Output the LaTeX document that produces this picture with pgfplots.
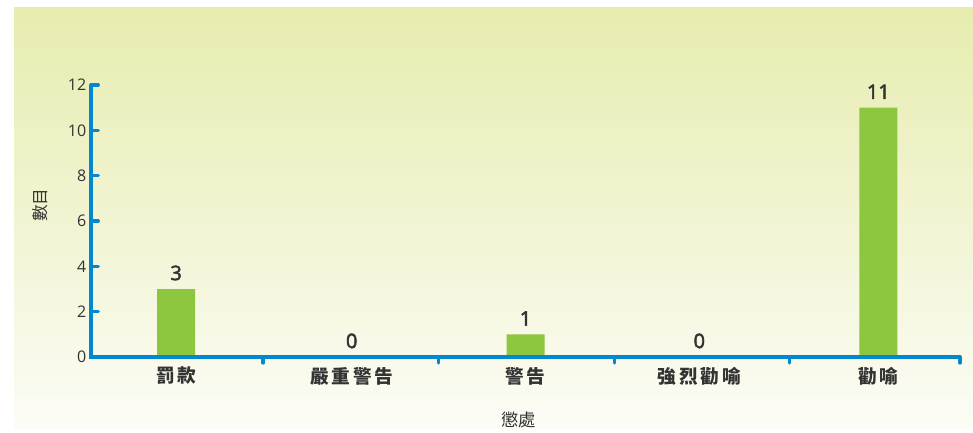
\documentclass[border=0pt]{standalone}
\usepackage{pgfplots}
\pgfplotsset{compat=1.18}
\usepackage{fontspec}
\setmainfont{Open Sans}
\newfontfamily\cjk{Noto Sans CJK TC}
\definecolor{axisblue}{RGB}{0,136,209}
\definecolor{bargreen}{RGB}{141,198,63}
\definecolor{bgtop}{RGB}{231,236,174}
\definecolor{bgbot}{RGB}{252,252,246}
\definecolor{txt}{RGB}{51,51,51}
\begin{document}
\begin{tikzpicture}
  % page and background (1px = 0.75pt)
  \fill[white] (0,0) rectangle (729.75pt,321pt);
  \shade[top color=bgtop, bottom color=bgbot] (10.5pt,0) rectangle (729.75pt,315pt);
  \begin{axis}[
      at={(68.25pt,53.25pt)}, anchor=south west,
      scale only axis,
      width=651.75pt, height=204pt,
      xmin=-0.5, xmax=4.5,
      ymin=0, ymax=12,
      axis line style={draw=none},
      xtick pos=bottom, ytick pos=left,
      xtick={-0.01,1,2,3,4.03},
      xticklabels={罰款,嚴重警告,警告,強烈勸喻,勸喻},
      minor xtick={0.49,1.5,2.51,3.52,4.5},
      major x tick style={draw=none},
      minor x tick style={draw=axisblue, line width=2.4pt, line cap=round},
      minor tick length=4.5pt,
      ytick={0,2,4,6,8,10,12},
      y tick style={draw=axisblue, line width=2.4pt, line cap=round},
      major tick length=5.5pt,
      tick align=inside,
      x tick label style={font=\cjk\bfseries\fontsize{14}{16}\selectfont\addfontfeature{LetterSpace=15}, text=txt, yshift=1.5pt},
      y tick label style={font=\fontsize{12}{14}\selectfont, text=txt, xshift=0pt},
      /pgf/number format/assume math mode=true,
      ylabel={\cjk 數目},
      ylabel style={font=\fontsize{12.5}{14}\selectfont, text=txt, at={(axis description cs:0,0.5)}, anchor=center, xshift=12pt, yshift=38pt},
      xlabel={\cjk 懲處},
      xlabel style={font=\fontsize{13}{15}\selectfont, text=txt, at={(axis description cs:0.5,0)}, anchor=center, xshift=-5pt, yshift=-47pt},
      clip=false,
      ybar, bar width=28.5pt,
      nodes near coords,
      every node near coord/.append style={font=\fontsize{15}{17}\selectfont\addfontfeature{FakeBold=2.5}, text=txt, yshift=3pt},
  ]
  \addplot[fill=bargreen, draw=none] coordinates {
      (-0.01,3) (1,0) (2,1) (3,0) (4.03,11)
  };
  \draw[axisblue, line width=2.4pt, line cap=round]
      (axis cs:4.5,0) -- (axis cs:-0.5,0) -- (axis cs:-0.5,12);
  \end{axis}
\end{tikzpicture}
\end{document}
